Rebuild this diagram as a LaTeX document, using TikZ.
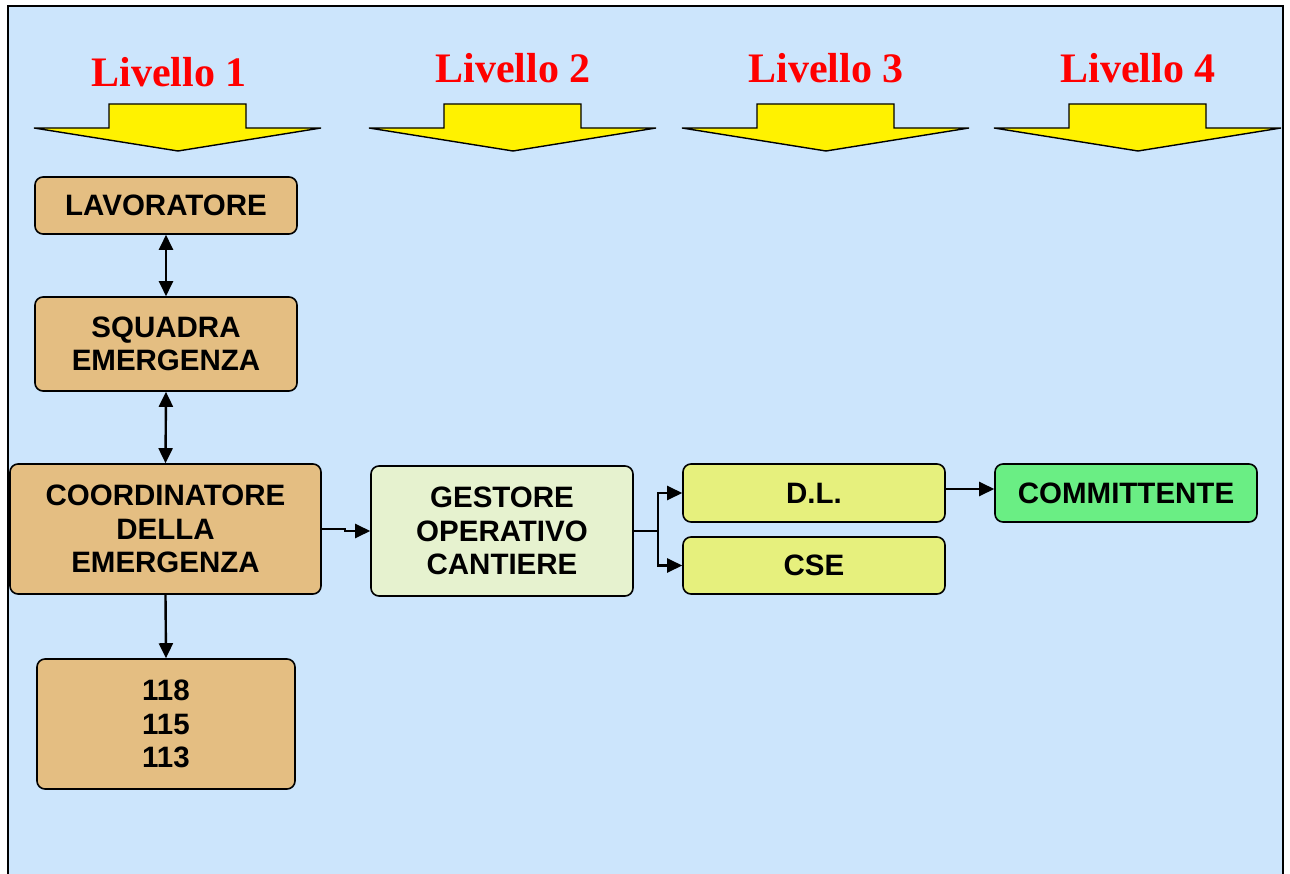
\documentclass[tikz,border=0pt]{standalone}
\usepackage{fontspec}
\setmainfont{Liberation Serif}
\newfontfamily\arialfont{Liberation Sans}
\usetikzlibrary{arrows.meta}
\definecolor{bgblue}{RGB}{204,229,252}
\definecolor{tanfill}{RGB}{228,190,130}
\definecolor{palegreen}{RGB}{230,242,207}
\definecolor{limebox}{RGB}{230,240,125}
\definecolor{greenbox}{RGB}{106,238,132}
\begin{document}
\begin{tikzpicture}[x=1pt,y=-1pt,
  box/.style={draw=black, line width=1.6pt, rounded corners=8pt, inner sep=0pt, align=center,
    font=\arialfont\bfseries\fontsize{29.5}{33.5}\selectfont},
  tanbox/.style={box, fill=tanfill},
  conn/.style={line width=2.4pt, -{Triangle[length=15pt,width=14pt]}},
  bconn/.style={line width=2.4pt, {Triangle[length=15pt,width=14pt]}-{Triangle[length=15pt,width=14pt]}},
  lvl/.style={text=red, anchor=base, font=\bfseries\fontsize{42}{48}\selectfont},
  levelarrow/.pic={\draw[fill=yellow, line width=1.4pt, line join=miter]
     (-144,128) -- (-69,128) -- (-69,104) -- (68,104) -- (68,128) -- (143,128) -- (0,151) -- cycle;}
]
\useasboundingbox (0,0) rectangle (1290,874);
\fill[white] (0,0) rectangle (1290,874);
\fill[bgblue] (8,6) rectangle (1283,874);
\draw[line width=2.2pt, line cap=rect] (8,874) -- (8,6) -- (1283,6) -- (1283,874);

% level labels and arrows
\node[lvl] (l1) at (169,87) {Livello 1};
\node[lvl] (l2) at (513,83) {Livello 2};
\node[lvl] (l3) at (826,83) {Livello 3};
\node[lvl] (l4) at (1138,83) {Livello 4};
\pic at (178,0) {levelarrow};
\pic at (513,0) {levelarrow};
\pic at (826,0) {levelarrow};
\pic at (1138,0) {levelarrow};

% boxes
\node[tanbox, minimum width=262pt, minimum height=57pt] (lav) at (166,205.5) {LAVORATORE};
\node[tanbox, minimum width=262pt, minimum height=94pt] (squ) at (166,344) {SQUADRA\\EMERGENZA};
\node[tanbox, minimum width=311pt, minimum height=130pt] (coo) at (165.5,529) {COORDINATORE\\DELLA\\EMERGENZA};
\node[tanbox, minimum width=258pt, minimum height=130pt] (num) at (166,724) {118\\115\\113};
\node[box, fill=palegreen, minimum width=262pt, minimum height=130pt] (ges) at (502,531) {GESTORE\\OPERATIVO\\CANTIERE};
\node[box, fill=limebox, minimum width=262pt, minimum height=58pt] (dl) at (814,493) {D.L.};
\node[box, fill=limebox, minimum width=262pt, minimum height=57pt] (cse) at (814,565.5) {CSE};
\node[box, fill=greenbox, minimum width=262pt, minimum height=58pt] (com) at (1126,493) {COMMITTENTE};

% connectors
\draw[bconn] (lav.south) -- (squ.north);
\draw[bconn] (squ.south) -- (coo.north);
\draw[conn] (coo.south) -- (num.north);
\coordinate (cj) at (345,529);
\draw[conn] (coo.east) -- (cj) |- (ges.west);
\coordinate (gj) at (658,531);
\draw[line width=2.4pt] (ges.east) -- (gj);
\draw[conn] (gj) |- (dl.west);
\draw[conn] (gj) |- (cse.west);
\draw[conn] ([yshift=4pt]dl.east) -- ([yshift=4pt]com.west);
\end{tikzpicture}
\end{document}
